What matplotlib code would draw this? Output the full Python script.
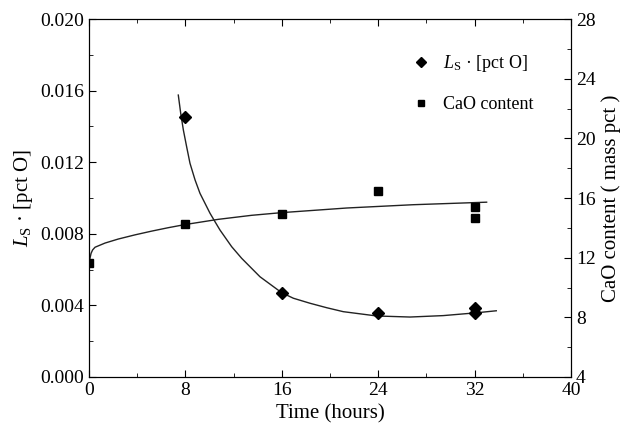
import matplotlib
matplotlib.use("Agg")
import matplotlib.pyplot as plt
from matplotlib.ticker import MultipleLocator

plt.rcParams["font.family"] = ["Liberation Serif", "DejaVu Serif"]
plt.rcParams["mathtext.fontset"] = "custom"
plt.rcParams["mathtext.rm"] = "Liberation Serif"
plt.rcParams["mathtext.it"] = "Liberation Serif:italic"

# measured points
ls_time = [8, 16, 24, 32, 32]
ls_value = [0.01453, 0.00468, 0.00359, 0.00387, 0.00356]
cao_time = [0, 8, 16, 24, 32, 32]
cao_value = [11.66, 14.25, 14.90, 16.47, 15.42, 14.68]

# fitted curves
ls_fit_time = [7.41, 7.61, 7.83, 8.10, 8.38, 8.80, 9.21, 10.04, 10.32, 10.87,
               11.84, 12.67, 14.19, 15.99, 16.96, 18.34, 19.73, 21.1, 23.87,
               26.64, 29.4, 32.2, 33.8]
ls_fit_value = [0.01575, 0.01473, 0.01380, 0.01287, 0.01194, 0.01101, 0.01026,
                0.00915, 0.00883, 0.00821, 0.00728, 0.00663, 0.00560, 0.00471,
                0.00440, 0.00412, 0.00387, 0.00365, 0.00341, 0.00335, 0.00343,
                0.00359, 0.00370]
cao_fit_time = [0.08, 0.17, 0.3, 0.5, 1.33, 2.43, 3.82, 5.2, 6.58, 7.97, 10.73,
                13.5, 16.0, 21.4, 26.9, 33.0]
cao_fit_value = [11.96, 12.29, 12.52, 12.70, 12.98, 13.25, 13.53, 13.78, 14.01,
                 14.22, 14.57, 14.84, 15.02, 15.33, 15.55, 15.72]

fig = plt.figure(figsize=(6.3, 4.37), dpi=100)
ax = fig.add_axes([0.1413, 0.1373, 0.765, 0.8192])
ax2 = ax.twinx()

ax.plot(ls_fit_time, ls_fit_value, color="#222222", lw=1.0)
ax2.plot(cao_fit_time, cao_fit_value, color="#222222", lw=1.0)
h1, = ax.plot(ls_time, ls_value, "D", color="black", ms=6, ls="none",
              label=r"$L_\mathrm{S}$ · [pct O]")
h2, = ax2.plot(cao_time, cao_value, "s", color="black", ms=6, ls="none",
               label="CaO content")

ax.set_xlim(0, 40)
ax.set_ylim(0, 0.020)
ax2.set_ylim(4, 28)
ax.xaxis.set_major_locator(MultipleLocator(8))
ax.xaxis.set_minor_locator(MultipleLocator(4))
ax.yaxis.set_major_locator(MultipleLocator(0.004))
ax.yaxis.set_minor_locator(MultipleLocator(0.002))
ax2.yaxis.set_major_locator(MultipleLocator(4))
ax2.yaxis.set_minor_locator(MultipleLocator(2))
ax.yaxis.set_major_formatter(plt.FormatStrFormatter("%.3f"))

ax.tick_params(which="both", direction="in", top=True, labelsize=14)
ax.tick_params(which="major", length=5)
ax.tick_params(which="minor", length=3)
ax2.tick_params(which="both", direction="in", labelsize=14)
ax2.tick_params(which="major", length=5)
ax2.tick_params(which="minor", length=3)

ax.set_xlabel("Time (hours)", fontsize=15)
ax.set_ylabel(r"$L_\mathrm{S}$ · [pct O]", fontsize=15)
ax2.set_ylabel("CaO content ( mass pct )", fontsize=15)

ax.legend(handles=[h1, h2], loc="upper right", bbox_to_anchor=(0.955, 0.95),
          frameon=False, fontsize=13, labelspacing=1.2, handletextpad=0.6,
          handlelength=1.2, markerscale=0.8)

fig.savefig("out.png", dpi=100)
